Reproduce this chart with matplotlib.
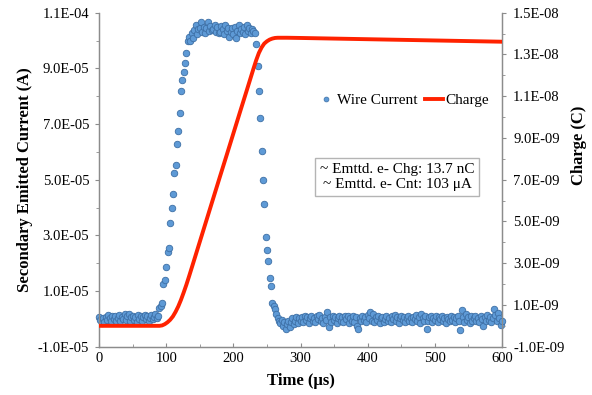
import numpy as np
import matplotlib
matplotlib.use("Agg")
import matplotlib.pyplot as plt
from matplotlib.ticker import FixedLocator, MultipleLocator, FuncFormatter
from matplotlib.lines import Line2D

# ── data ──────────────────────────────────────────────────────────────────────
# wire current (uA), one sample every 2 us from 0 to 600 us
baseline_pre = [0.8, -0.5, -1.4, 0.3, -1.2, 0.6, -0.3, 1.5, 0.2, -0.8,
                0.9, -0.2, 1.1, -0.9, 0.4, 1.3, -0.6, 0.7, 0.0, 1.6,
                -0.4, 0.9, 1.8, -0.7, 0.5, 1.2, -0.3, 0.8, -1.0, 1.4,
                0.1, 1.0, -0.6, 0.6, 1.3, -0.2, 0.9, -0.8, 0.4, 1.5,
                -0.1, 0.7, 1.9, 0.3, 1.2]
rise = [3.8, 4.8, 5.6, 12.5, 14.0, 18.7, 23.9, 25.3, 34.6, 39.8, 44.8,
        52.3, 55.3, 62.8, 67.6, 74.1, 82.0, 85.8, 88.8, 91.8, 95.4, 99.9]
plateau = [101.2, 99.8, 102.6, 101.0, 103.8, 105.6, 102.4, 104.0, 104.4, 106.8,
           103.2, 105.0, 102.8, 104.6, 106.8, 103.6, 105.4, 103.8, 104.2, 105.6,
           103.0, 104.8, 102.6, 103.2, 105.2, 104.0, 102.4, 105.6, 103.6, 104.6,
           101.4, 103.0, 104.4, 102.2, 104.8, 100.8, 103.4, 105.6, 102.6, 104.2,
           103.0, 105.0, 102.4, 105.6, 103.6, 104.4, 102.8, 104.0, 103.4, 102.6]
fall = [98.6, 91.0, 82.0, 72.3, 60.4, 49.9, 41.4, 29.5, 24.7, 20.7,
        14.6, 11.9, 5.7, 4.6, 3.4, 1.8, 0.4, -0.9]
dip = [-1.5, -0.3, -2.6, -1.0, -3.8, -1.8, -0.6, -2.9, -1.2, 0.2,
       -2.0, -0.8, 0.6, -1.5, 0.3, -0.9]
baseline_post = [0.5, -1.3, 1.0, -0.4, 0.8, -1.6, 0.2, 1.2, -0.8, 0.4,
                 -1.1, 0.9, -0.2, 1.3, -0.9, 0.3, -1.4, 0.7, -0.5, 2.6,
                 -2.8, 0.6, -1.0, 1.1, -0.3, 0.8, -1.5, 0.2, 1.0, -0.7,
                 0.5, -1.2, 0.9, -0.1, 1.2, -1.6, 0.3, -0.6, 1.0, -1.1,
                 0.6, -2.4, -3.7, 0.4, -0.9, 1.1, -0.4, 0.7, -1.3, 1.4,
                 0.2, 2.6, -0.8, 1.8, -1.2, 0.5, -0.3, 1.0, -1.5, 0.3,
                 0.8, -1.0, 0.1, 1.2, -0.6, 0.4, -1.3, 0.9, -0.2, 1.3,
                 -0.9, 0.6, -1.4, 0.2, 1.1, -0.5, 0.7, -1.1, 0.4, 1.0,
                 -0.7, 0.3, -1.2, 0.8, -0.1, 1.4, -0.8, 0.5, -1.5, 1.6,
                 0.2, -0.6, 1.2, -3.5, -0.9, 0.6, 1.0, -1.2, 0.3, -0.4,
                 0.9, -1.3, 0.5, -0.2, 1.1, -0.8, 0.4, -1.4, 0.7, 0.1,
                 -0.9, 1.0, -0.4, 0.6, -1.2, 0.3, 1.2, -0.7, -4.0, 3.2,
                 0.8, -1.1, 1.6, -0.3, 0.5, -1.4, 0.9, -0.6, 0.2, 1.1,
                 -0.8, 0.4, -1.2, 1.0, -0.2, -2.6, 0.6, -0.9, 1.3, -0.4,
                 0.7, -1.3, 0.2, 3.4, 1.4, -0.9, 2.0, 0.4, -2.2, -0.6]
wire_current_uA = baseline_pre + rise + plateau + fall + dip + baseline_post
time_us = np.arange(0, 601, 2)

# accumulated charge (nC)
charge_t = [0, 80, 90, 94, 98, 102, 106, 110, 114, 118, 122, 126, 130, 134,
            140, 150, 160, 170, 180, 190, 200, 210, 220, 230, 234, 238, 242,
            246, 250, 254, 258, 262, 266, 270, 280, 300, 400, 500, 600]
charge_nC = [0, 0, 0, 0.02, 0.08, 0.17, 0.29, 0.45, 0.67, 0.93, 1.24, 1.59,
             1.96, 2.36, 2.98, 4.02, 5.06, 6.10, 7.14, 8.17, 9.21, 10.25,
             11.28, 12.32, 12.72, 13.07, 13.33, 13.52, 13.63, 13.71, 13.76,
             13.79, 13.80, 13.80, 13.80, 13.79, 13.73, 13.67, 13.61]

current_A = np.array(wire_current_uA) * 1e-6
charge_C = np.array(charge_nC) * 1e-9

# ── style ─────────────────────────────────────────────────────────────────────
SERIF = "Liberation Serif"
AXIS = "#8c8c8c"
BLUE = "#5e9ad6"
BLUE_EDGE = "#3d6fa5"
RED = "#ff2200"

plt.rcParams.update({
    "font.family": SERIF,
    "font.size": 10,
})

fig = plt.figure(figsize=(5.92, 3.95), dpi=100)
ax = fig.add_axes([99/592, 1-346.7/395, 403/592, 334/395])
ax2 = ax.twinx()

ax.plot(time_us, current_A, "o", ms=4.7, mfc=BLUE, mec=BLUE_EDGE, mew=0.6,
        clip_on=False, zorder=3)
ax2.plot(charge_t, charge_C, color=RED, lw=2.8, solid_capstyle="round", zorder=4)

ax.set_xlim(0, 600)
ax.set_ylim(-1e-5, 1.1e-4)
ax2.set_ylim(-1e-9, 1.5e-8)

ax.xaxis.set_major_locator(MultipleLocator(100))
ax.xaxis.set_minor_locator(MultipleLocator(50))
ax.yaxis.set_major_locator(FixedLocator(np.arange(-1e-5, 1.15e-4, 2e-5)))
ax.yaxis.set_minor_locator(MultipleLocator(1e-5))
ax2.yaxis.set_major_locator(FixedLocator(np.arange(-1e-9, 1.55e-8, 2e-9)))
ax2.yaxis.set_minor_locator(MultipleLocator(1e-9))

sci = FuncFormatter(lambda v, p: f"{v:.1E}")
ax.yaxis.set_major_formatter(sci)
ax2.yaxis.set_major_formatter(sci)

for a in (ax, ax2):
    a.spines["top"].set_visible(False)
    for s in ("left", "right", "bottom"):
        a.spines[s].set_color(AXIS)
        a.spines[s].set_linewidth(0.9)
    a.tick_params(which="both", color=AXIS, labelsize=10.5)

ax.tick_params(axis="x", which="major", direction="in", length=3, pad=4)
ax.tick_params(axis="x", which="minor", direction="in", length=2)
ax.tick_params(axis="y", which="major", direction="out", length=3, pad=4)
ax.tick_params(axis="y", which="minor", direction="out", length=2)
ax2.tick_params(axis="y", which="major", direction="out", length=3, pad=5)
ax2.tick_params(axis="y", which="minor", direction="out", length=2)

ax.set_xlabel("Time (μs)", fontsize=12, fontweight="bold")
ax.set_ylabel("Secondary Emitted Current (A)", fontsize=12, fontweight="bold")
ax2.set_ylabel("Charge (C)", fontsize=12, fontweight="bold")
ax.xaxis.set_label_coords(0.5, -0.08)
ax.yaxis.set_label_coords(-0.165, 0.5)
ax2.yaxis.set_label_coords(1.172, 0.604)

handles = [Line2D([], [], ls="none", marker="o", ms=3.5, mfc=BLUE, mec=BLUE_EDGE,
                  mew=0.5),
           Line2D([], [], color=RED, lw=2.8)]
ax.legend(handles, ["Wire Current", "Charge"], loc="center",
          bbox_to_anchor=(0.754, 0.738), ncol=2, frameon=False, fontsize=11,
          handlelength=1.2, handletextpad=0.1, columnspacing=0.5)

ax.text(0.74, 0.508, "~ Emttd. e- Chg: 13.7 nC\n~ Emttd. e- Cnt: 103 μA",
        transform=ax.transAxes, ha="center", va="center", fontsize=11,
        multialignment="center", linespacing=1.2,
        bbox=dict(boxstyle="square,pad=0.3", fc="white", ec="#b4b4b4", lw=1))

fig.savefig("out.png", dpi=100)
